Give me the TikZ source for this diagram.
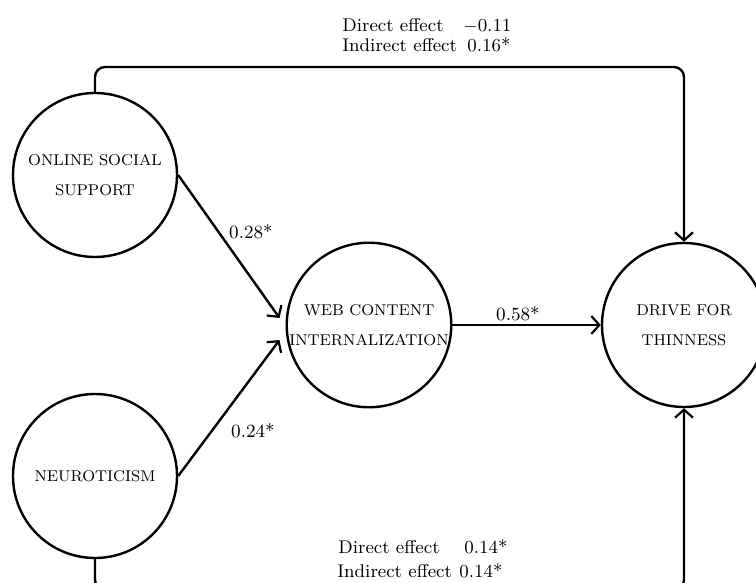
\documentclass[tikz,border=0pt]{standalone}
\usepackage{tikz}
\usetikzlibrary{arrows.meta,calc}

\tikzset{
  construct/.style={circle, draw, line width=1.2pt, minimum size=82pt, inner sep=0pt,
    align=center, font=\fontsize{7.8}{15}\selectfont},
  link/.style={line width=1.2pt, -{Straight Barb[length=4pt,width=9pt,line width=1.1pt]}},
  coef/.style={inner sep=0pt, font=\fontsize{9.3}{11}\selectfont},
  effect/.style={anchor=base west, inner sep=0pt, font=\fontsize{9.2}{11}\selectfont},
}

\begin{document}
\begin{tikzpicture}[x=0.5pt, y=-0.5pt]

  \useasboundingbox (0,0) rectangle (756,583);

  \node (oss) [construct] at (95,175) {ONLINE SOCIAL\\SUPPORT};
  \node (neu) [construct] at (95,476) {NEUROTICISM};
  \node (wci) [construct] at (369,325) {WEB CONTENT\\INTERNALIZATION};
  \node (dft) [construct] at (684,325) {DRIVE FOR\\THINNESS};

  \coordinate (toprun) at (390,67);
  \coordinate (botrun) at (390,590);

  \draw [link] (oss.east) -- ($(wci.west)+(-6,-7)$);
  \draw [link] (neu.east) -- ($(wci.west)+(-6,15)$);
  \draw [link] (wci.east) -- (dft.west);
  \draw [link, rounded corners=5pt] (oss.north) |- (toprun) -| (dft.north);
  \draw [link, rounded corners=5pt] (neu.south) |- (botrun) -| (dft.south);

  \node (c1) [coef] at (251,232) {0.28*};
  \node (c2) [coef] at (253,431) {0.24*};
  \node (c3) [coef] at (518,314) {0.58*};

  \node (d1) [effect] at (342,32) {Direct effect};
  \node (d1v) [effect] at (463,32) {$-$0.11};
  \node (i1) [effect] at (342,52) {Indirect effect};
  \node (i1v) [effect] at (467,52) {0.16*};

  \node (d2) [effect] at (338,553) {Direct effect};
  \node (d2v) [effect] at (464,553) {0.14*};
  \node (i2) [effect] at (337,577) {Indirect effect};
  \node (i2v) [effect] at (459,577) {0.14*};

\end{tikzpicture}
\end{document}
